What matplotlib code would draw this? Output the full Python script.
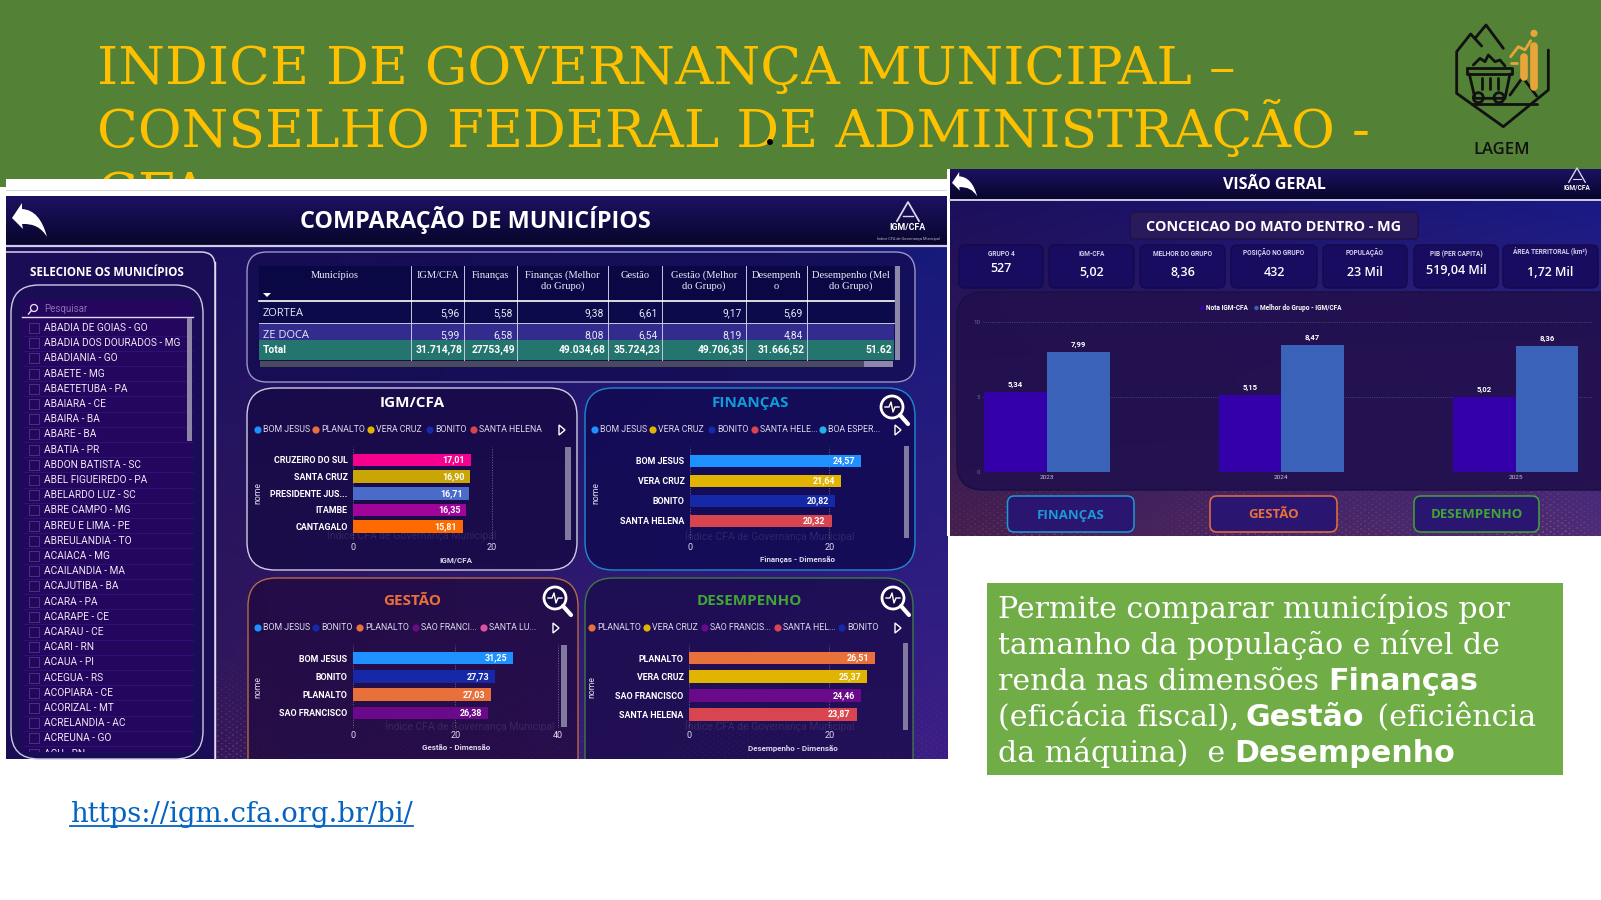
import numpy as np
import matplotlib
matplotlib.use("Agg")
import matplotlib.pyplot as plt
from matplotlib.colors import to_rgba, to_rgb
from matplotlib.patches import FancyBboxPatch, Rectangle, Circle, Polygon, PathPatch
from matplotlib.path import Path
from matplotlib.textpath import TextPath

# ---------- data ----------
TITLE_LINES = ["INDICE DE GOVERNANÇA MUNICIPAL –", "CONSELHO FEDERAL DE ADMINISTRAÇÃO -", "CFA"]
MUNICIPIOS = ["ABADIA DE GOIAS - GO", "ABADIA DOS DOURADOS - MG", "ABADIANIA - GO", "ABAETE - MG",
              "ABAETETUBA - PA", "ABAIARA - CE", "ABAIRA - BA", "ABARE - BA", "ABATIA - PR",
              "ABDON BATISTA - SC", "ABEL FIGUEIREDO - PA", "ABELARDO LUZ - SC", "ABRE CAMPO - MG",
              "ABREU E LIMA - PE", "ABREULANDIA - TO", "ACAIACA - MG", "ACAILANDIA - MA",
              "ACAJUTIBA - BA", "ACARA - PA", "ACARAPE - CE", "ACARAU - CE", "ACARI - RN",
              "ACAUA - PI", "ACEGUA - RS", "ACOPIARA - CE", "ACORIZAL - MT", "ACRELANDIA - AC",
              "ACREUNA - GO", "ACU - RN"]
TABLE_HEAD = ["Municípios", "IGM/CFA", "Finanças", "Finanças (Melhor\ndo Grupo)", "Gestão",
              "Gestão (Melhor\ndo Grupo)", "Desempenh\no", "Desempenho (Mel\ndo Grupo)"]
ROW_ZORTEA = ["ZORTEA", "5,96", "5,58", "9,38", "6,61", "9,17", "5,69", ""]
ROW_ZEDOCA = ["ZE DOCA", "5,99", "6,58", "8,08", "6,54", "8,19", "4,84", ""]
ROW_TOTAL = ["Total", "31.714,78", "27753,49", "49.034,68", "35.724,23", "49.706,35", "31.666,52", "51.62"]

IGM_NAMES = ["CRUZEIRO DO SUL", "SANTA CRUZ", "PRESIDENTE JUS...", "ITAMBE", "CANTAGALO"]
IGM_VALUES = [17.01, 16.90, 16.71, 16.35, 15.81]
FIN_NAMES = ["BOM JESUS", "VERA CRUZ", "BONITO", "SANTA HELENA"]
FIN_VALUES = [24.57, 21.64, 20.82, 20.32]
GES_NAMES = ["BOM JESUS", "BONITO", "PLANALTO", "SAO FRANCISCO"]
GES_VALUES = [31.25, 27.73, 27.03, 26.38]
DES_NAMES = ["PLANALTO", "VERA CRUZ", "SAO FRANCISCO", "SANTA HELENA"]
DES_VALUES = [26.51, 25.37, 24.46, 23.87]

YEARS = ["2023", "2024", "2025"]
NOTA_IGM = [5.34, 5.15, 5.02]
MELHOR_GRUPO = [7.99, 8.47, 8.36]

KPI_LABELS = ["GRUPO 4", "IGM-CFA", "MELHOR DO GRUPO", "POSIÇÃO NO GRUPO", "POPULAÇÃO", "PIB (PER CAPITA)", "ÁREA TERRITORAL (km²)"]
KPI_VALUES = ["527", "5,02", "8,36", "432", "23 Mil", "519,04 Mil", "1,72 Mil"]

# ---------- colours ----------
BLUE, ORANGE, YELLOW, NAVY, RED, PURPLE = "#1e90ff", "#e8703a", "#e0b400", "#1428a8", "#d9454f", "#6a0a8a"
W, H = 1601, 900
SERIF = "DejaVu Serif"

fig = plt.figure(figsize=(W / 100, H / 100), dpi=100, facecolor="white")
bg = fig.add_axes([0, 0, 1, 1])
bg.set_xlim(0, W); bg.set_ylim(H, 0); bg.axis("off")
renderer = fig.canvas.get_renderer()


def rect(x0, y0, x1, y1, color, z, alpha=None):
    bg.add_patch(Rectangle((x0, y0), x1 - x0, y1 - y0, fc=color, ec="none", zorder=z, alpha=alpha))


def rbox(x0, y0, x1, y1, r, ec="none", fc="none", lw=1.0, z=5):
    p = FancyBboxPatch((x0, y0), x1 - x0, y1 - y0, boxstyle=f"round,pad=0,rounding_size={r}",
                       fc=fc, ec=ec, lw=lw, zorder=z)
    bg.add_patch(p)
    return p


def txt(x, y, s, size=7, color="white", ha="center", va="center", weight="normal", family="Roboto", z=9, **kw):
    return bg.text(x, y, s, fontsize=size, color=color, ha=ha, va=va, fontweight=weight, family=family, zorder=z, **kw)


def gradient(x0, y0, x1, y1, tl, tr, bl, br, z):
    top = np.linspace(to_rgb(tl), to_rgb(tr), 64)
    bot = np.linspace(to_rgb(bl), to_rgb(br), 64)
    img = np.linspace(top, bot, 64)
    bg.imshow(img, extent=(x0, x1, y1, y0), aspect="auto", zorder=z, interpolation="bilinear")
    bg.set_xlim(0, W); bg.set_ylim(H, 0)


def city_lights(x0, y0, x1, y1, z, strength=0.4):
    """Background texture imitating the blurred city lights of the dashboard wallpaper."""
    nx, ny = int(x1 - x0), int(y1 - y0)
    xx, yy = np.meshgrid(np.arange(nx) + x0, np.arange(ny))
    lights = (np.sin(xx * 0.83) * np.sin(yy * 1.17 + xx * 0.05) > 0.55) * 1.0
    lights *= 0.5 + 0.5 * np.sin(xx * 0.031 + 1.0) * np.sin(xx * 0.007)
    env = np.linspace(0.15, 1, ny)[:, None]
    rgba = np.zeros((ny, nx, 4))
    rgba[..., 0] = 0.95
    rgba[..., 1] = 0.45 + 0.15 * np.sin(xx * 0.01)
    rgba[..., 2] = 0.45
    rgba[..., 3] = np.clip(lights, 0, 1) * env * strength
    bg.imshow(rgba, extent=(x0, x1, y1, y0), aspect="auto", zorder=z, interpolation="bilinear")
    bg.set_xlim(0, W); bg.set_ylim(H, 0)


def back_arrow(x, y, s, z=9):
    verts = [(0, 15), (10, 0), (10, 6), (28, 7), (35, 34), (27, 20), (10, 21), (11, 26), (0, 15)]
    codes = [Path.MOVETO, Path.LINETO, Path.LINETO, Path.CURVE3, Path.CURVE3, Path.CURVE3, Path.CURVE3, Path.LINETO, Path.CLOSEPOLY]
    verts = [(x + a * s, y + b * s) for a, b in verts]
    bg.add_patch(PathPatch(Path(verts, codes), fc="white", ec="none", zorder=z))


def igm_logo(cx, cy, s=1.0, z=9):
    bg.plot([cx - 11 * s, cx, cx + 11 * s], [cy - 1 * s, cy - 20 * s, cy - 1 * s], color="#d8d8e8", lw=1.3 * s, zorder=z)
    bg.plot([cx - 5 * s, cx + 5 * s], [cy - 6 * s, cy - 6 * s], color="#d8d8e8", lw=1.0 * s, zorder=z)
    txt(cx, cy + 6 * s, "IGM/CFA", size=6.4 * s, weight="bold", z=z)


def magnifier(cx, cy):
    bg.add_patch(Circle((cx, cy), 11, fc="#160b45", ec="white", lw=2.0, zorder=9))
    bg.plot([cx + 8, cx + 16], [cy + 8, cy + 17], color="white", lw=3.0, zorder=9, solid_capstyle="round")
    bg.plot([cx - 7, cx - 3, cx - 1, cx + 1, cx + 3, cx + 7], [cy, cy, cy - 5, cy + 5, cy, cy], color="white", lw=1, zorder=10)


def legend(items, y, arrow_x):
    for x, name, col in items:
        bg.add_patch(Circle((x, y), 3.6, fc=col, ec="none", zorder=9))
        txt(x + 5, y, name, size=6.3, ha="left", color="#dcd8ec")
    bg.add_patch(Polygon([(arrow_x - 3, y - 5), (arrow_x + 3, y), (arrow_x - 3, y + 5)], fc="#160b45", ec="white", lw=1, zorder=9))


def hbars(names, values, colors, x0, x_right, ppu, first, step, ytop, ybot, ticks, xlabel, lab_x, lab_y, nome_x, off=6):
    ax = fig.add_axes([x0 / W, 1 - ybot / H, (x_right - x0) / W, (ybot - ytop) / H], zorder=5)
    ax.patch.set_visible(False)
    ax.set_xlim(0, (x_right - x0) / ppu)
    ax.set_ylim((ybot - first) / step, (ytop - first) / step)
    pos = np.arange(len(values))
    ax.barh(pos, values, height=12.8 / step, color=colors, zorder=3)
    for p, v in zip(pos, values):
        ax.text(v - off / ppu, p, f"{v:.2f}".replace(".", ","), color="white", fontsize=6.4, fontweight="bold",
                family="Roboto", ha="right", va="center", zorder=4)
    ax.set_yticks(pos, names, color="white", fontsize=6.4, fontweight="bold", family="Roboto")
    ax.set_xticks(ticks, [str(t) for t in ticks], color="#dcd8ec", fontsize=6.6, family="Roboto")
    ax.tick_params(length=0, axis="both")
    ax.tick_params(axis="y", pad=4)
    ax.tick_params(axis="x", pad=2.5)
    for s in ax.spines.values():
        s.set_visible(False)
    ax.xaxis.grid(True, color="#6f6b96", ls=":", lw=0.7, zorder=1)
    ax.set_axisbelow(True)
    txt(lab_x, lab_y, xlabel, size=5.8, weight="bold", color="#dcd8ec")
    txt(nome_x, (ytop + ybot) / 2, "nome", size=6.2, rotation=90, color="#dcd8ec")
    return ax


# ---------- banner ----------
rect(0, 0, W, 187, "#538135", 1)
for line, y in zip(TITLE_LINES, [84, 147, 210]):
    txt(97, y, line, size=38.4, color="#FFC000", ha="left", va="baseline", family=SERIF, z=2)
bg.add_patch(Circle((770, 142), 3, fc="black", ec="none", zorder=20))

# logo LAGEM
def lg(pts, color="#111111", lw=2.0):
    bg.plot([1380 + a / 3 for a, b in pts], [b / 3 for a, b in pts], color=color, lw=lw, zorder=3,
            solid_capstyle="round", solid_joinstyle="round")
lg([(505, 150), (505, 270), (370, 380), (230, 280), (230, 155), (272, 102), (305, 138)])
lg([(285, 115), (318, 75), (370, 145)])
lg([(262, 205), (395, 205), (395, 222), (262, 222), (262, 205)])
lg([(268, 222), (285, 295), (375, 295), (390, 222)])
lg([(305, 235), (305, 268)]); lg([(330, 235), (330, 268)]); lg([(355, 235), (355, 268)])
lg([(280, 195), (300, 175), (315, 185), (325, 165), (345, 185), (360, 180), (375, 198)])
lg([(275, 313), (470, 313)])
lg([(390, 285), (428, 232), (470, 288)])
lg([(392, 170), (415, 140), (435, 150), (452, 122)], "#e8a53a", 2.0)
lg([(392, 190), (410, 190)], "#e8a53a", 2.0)
lg([(431, 170), (431, 232)], "#e8a53a", 5.5)
lg([(463, 137), (463, 262)], "#e8a53a", 5.5)
for cx in (295, 357):
    bg.add_patch(Circle((1380 + cx / 3, 293 / 3), 5, fc="none", ec="#111111", lw=2, zorder=3))
bg.add_patch(Circle((1380 + 462 / 3, 100 / 3), 3.6, fc="#e8a53a", ec="none", zorder=3))
txt(1502, 150, "LAGEM", size=12, color="#111111", family="Open Sans", weight="semibold", z=3)

# ---------- left dashboard ----------
rect(5.7, 179, 948, 196.5, "white", 3)
bg.plot([5.7, 948], [190, 190], color="#d9d9e0", lw=0.8, zorder=3.1)
gradient(5.7, 246, 947, 759, "#1d0e58", "#171a7a", "#33164f", "#3b1f86", 3.2)
gradient(5.7, 196.5, 947, 246, "#1c1262", "#1c1262", "#07052a", "#07052a", 3.3)
city_lights(216, 660, 947, 759, 3.4, 0.2)
bg.plot([5.7, 947], [246, 246], color="#cfcbe6", lw=1.6, zorder=4)
back_arrow(12, 203, 1.0)
txt(475, 220, "COMPARAÇÃO DE MUNICÍPIOS", size=16.8, weight="bold", family="Open Sans")
igm_logo(908, 222)
txt(908, 239, "Índice CFA de Governança Municipal", size=2.8, color="#b8b8cc")

# selector
rbox(-8, 252, 215, 780, 14, ec="#d6d2ea", fc="#1b0d55", lw=1.1, z=4)
txt(107, 273, "SELECIONE OS MUNICÍPIOS", size=8.4, weight="bold", family="Open Sans")
rect(22, 300, 193, 752, "#25065f", 4.2)
bg.plot([22, 193], [317, 317], color="#e0dcf0", lw=1, zorder=4.4)
bg.add_patch(Circle((34, 308), 3.5, fc="none", ec="#e8e4f4", lw=0.9, zorder=5))
bg.plot([28.5, 31.5], [314, 310.5], color="#e8e4f4", lw=1, zorder=5)
txt(44, 309, "Pesquisar", size=7, ha="left", color="#8a70b0")
for i, name in enumerate(MUNICIPIOS):
    y = 328 + i * 15.2
    bg.plot([24, 193], [y + 7.5, y + 7.5], color="#2f1880", lw=0.5, zorder=4.3)
    bg.add_patch(Rectangle((28.5, y - 5), 10.5, 10, fc="none", ec="#45357c", lw=0.7, zorder=4.4))
    txt(44, y, name, size=7.3, ha="left", color="#ece8f6", z=5)
rect(187, 318, 192, 441, "#8f86a6", 6)
rect(10, 752, 205, 759, "#1b0d55", 6.5)
rbox(11, 285, 203, 759, 28, ec="#cfcae4", lw=1.0, z=7)
bg.plot([215, 215], [262, 759], color="#e0dcf0", lw=1.0, zorder=7)

# table
rbox(247, 252, 915, 382, 20, ec="#9a95c6", fc=to_rgba("#130c50", 0.75), z=4)
COLS = [259, 411, 464, 517, 608, 662, 746, 807, 894]
rect(259, 266, 894, 301, "#090845", 4.2)
rect(259, 301, 894, 323, "#0b0a4a", 4.2)
rect(259, 323, 894, 342, "#322c8e", 4.2)
for i, head in enumerate(TABLE_HEAD):
    cx = (COLS[i] + COLS[i + 1]) / 2
    lines = head.split("\n")
    for k, l in enumerate(lines):
        txt(cx, 275 + k * 11.3, l, size=7.6, family="Liberation Serif", color="#eceaf6")
bg.add_patch(Polygon([(263, 293), (271, 293), (267, 297)], fc="white", zorder=6))
for yy, row, z in [(313, ROW_ZORTEA, 6), (335, ROW_ZEDOCA, 6)]:
    txt(263, yy, row[0], size=8, ha="left", family="Open Sans", color="#eceaf6", z=z)
    for i in range(1, 8):
        txt(COLS[i + 1] - 4, yy, row[i], size=7.4, ha="right", color="#eceaf6", z=z)
rect(259, 340, 894, 360, "#25756f", 7)
txt(263, 350, ROW_TOTAL[0], size=7.4, ha="left", weight="bold", z=8)
for i in range(1, 8):
    txt(COLS[i + 1] - 2, 350, ROW_TOTAL[i], size=7.4, ha="right", weight="bold", z=8)
for c in COLS[1:-1]:
    bg.plot([c, c], [266, 360], color="#c8c6e0", lw=0.7, zorder=8)
bg.plot([259, 894], [301, 301], color="white", lw=1.2, zorder=8)
bg.plot([259, 894], [323, 323], color="#c8c6e0", lw=0.7, zorder=5)
rect(895, 266, 900, 360, "#8d87a8", 8)
rect(260, 361, 893, 367, "#8d87a8", 8)
rect(260, 361, 864, 367, "#4a4a5e", 8.2)

# chart panels
rbox(247, 388, 577, 570, 28, ec="#d0cce4", fc=to_rgba("#180a46", 0.85), z=4)
rbox(585, 388, 915, 570, 28, ec="#1c8ad0", fc=to_rgba("#120a52", 0.85), z=4)
rbox(248, 578, 578, 790, 28, ec="#b56a48", fc=to_rgba("#20093e", 0.72), z=4)
rbox(585, 578, 913, 790, 28, ec="#3d7a45", fc=to_rgba("#190a48", 0.72), z=4)
rect(0, 759, 948, 795, "white", 4.6)
rect(0, 187, 5.7, 795, "white", 4.6)
txt(412, 403, "IGM/CFA", size=11, weight="bold", family="Open Sans")
txt(750, 403, "FINANÇAS", size=11, weight="bold", color="#0d9ddc", family="Open Sans")
txt(412, 601, "GESTÃO", size=11, weight="bold", color=ORANGE, family="Open Sans")
txt(749, 601, "DESEMPENHO", size=11, weight="bold", color="#3fa535", family="Open Sans")
for cx, cy in [(412, 535), (770, 536), (470, 726), (770, 726)]:
    txt(cx, cy, "Índice CFA de Governança Municipal", size=7.5, color="#6a6090", alpha=0.3, z=4.5)
magnifier(892, 407); magnifier(555, 598); magnifier(893, 598)

legend([(258, "BOM JESUS", BLUE), (316, "PLANALTO", ORANGE), (371, "VERA CRUZ", YELLOW), (430, "BONITO", NAVY), (474, "SANTA HELENA", RED)], 430, 562)
legend([(595, "BOM JESUS", BLUE), (653, "VERA CRUZ", YELLOW), (712, "BONITO", NAVY), (755, "SANTA HELE...", RED), (823, "BOA ESPER...", "#20b0f0")], 430, 898)
legend([(258, "BOM JESUS", BLUE), (316, "BONITO", NAVY), (360, "PLANALTO", ORANGE), (416, "SAO FRANCI...", PURPLE), (484, "SANTA LU...", "#e050a0")], 628, 556)
legend([(592, "PLANALTO", ORANGE), (647, "VERA CRUZ", YELLOW), (705, "SAO FRANCIS...", PURPLE), (778, "SANTA HEL...", RED), (842, "BONITO", NAVY)], 628, 898)

hbars(IGM_NAMES, IGM_VALUES, ["#f5008f", "#c9a606", "#4a6bc8", "#a0059a", "#ff6a00"], 353.3, 560, 6.92, 460, 16.65, 447, 540,
      [0, 20], "IGM/CFA", 456, 560, 258)
hbars(FIN_NAMES, FIN_VALUES, [BLUE, YELLOW, NAVY, RED], 690, 895, 6.97, 461, 20, 447, 540,
      [0, 20], "Finanças - Dimensão", 798, 559, 596)
hbars(GES_NAMES, GES_VALUES, [BLUE, NAVY, ORANGE, PURPLE], 352.7, 560, 5.13, 658, 18.3, 645, 728,
      [0, 20, 40], "Gestão - Dimensão", 456, 748, 258)
hbars(DES_NAMES, DES_VALUES, [ORANGE, YELLOW, PURPLE, RED], 689, 895, 7.02, 658, 18.7, 645, 728,
      [0, 20], "Desempenho - Dimensão", 793, 748, 592)
for x0, x1, y0, y1 in [(565, 571, 447, 540), (904, 909, 446, 538), (561, 567, 645, 727), (903, 908, 643, 730)]:
    rect(x0, y0, x1, y1, "#7f7a9e", 9)

# ---------- right dashboard ----------
rect(947, 169, 950, 536, "white", 10)
gradient(950, 199, W, 536, "#1c0f5c", "#1a1a85", "#44204f", "#4d2c78", 10.1)
gradient(950, 169, W, 199, "#1c1262", "#1c1262", "#07052a", "#07052a", 10.2)
city_lights(950, 470, W, 536, 10.25, 0.3)
bg.plot([950, W], [199.5, 199.5], color="#cfcbe6", lw=1.4, zorder=10.3)
back_arrow(952, 172, 0.72, z=11)
txt(1274, 185, "VISÃO GERAL", size=11.5, weight="bold", family="Open Sans", z=11)
igm_logo(1577, 183, 0.75, z=11)
rbox(1130, 212, 1418, 239, 5, fc="#2a1a5c", ec="#1c1248", z=11)
txt(1274, 227, "CONCEICAO DO MATO DENTRO - MG", size=10.4, weight="bold", family="Open Sans", z=12)
KPI_X = [(959, 1043), (1049, 1134), (1140, 1225), (1231, 1317), (1323, 1407), (1414, 1498), (1503, 1598)]
for (a, b), lab, val, ly, vy in zip(KPI_X, KPI_LABELS, KPI_VALUES,
                                    [254, 254, 254, 253, 253, 254, 252],
                                    [268, 272, 272, 272, 272, 271, 272]):
    rbox(a, 245, b, 288, 6, fc="#170c60", ec="#140a48", z=11)
    txt((a + b) / 2, ly, lab, size=4.7, weight="bold", color="#d4d0e8", z=12)
    txt((a + b) / 2, vy, val, size=9, weight="semibold", family="Open Sans", z=12)
rbox(957, 292, 1640, 490, 26, fc=to_rgba("#22104e", 0.92), ec="#181040", z=11)
bg.add_patch(Circle((1202, 308), 2.2, fc="#3300aa", zorder=12))
txt(1206, 308, "Nota IGM-CFA", size=4.7, weight="bold", ha="left", z=12)
bg.add_patch(Circle((1256.5, 308), 2.2, fc="#3a62b8", zorder=12))
txt(1260.5, 308, "Melhor do Grupo - IGM/CFA", size=4.7, weight="bold", ha="left", z=12)

vx0, vx1, vtop, vbot = 983, 1592, 321.7, 472.3
ax = fig.add_axes([vx0 / W, 1 - vbot / H, (vx1 - vx0) / W, (vbot - vtop) / H], zorder=6)
ax.patch.set_visible(False)
ppg = 234.3
ax.set_xlim((vx0 - 1047) / ppg, (vx1 - 1047) / ppg)
ax.set_ylim(0, 10)
xs = np.arange(len(YEARS))
bw = 62.7 / ppg
b1 = ax.bar(xs - bw / 2, NOTA_IGM, bw, color="#3300aa", zorder=3)
b2 = ax.bar(xs + bw / 2, MELHOR_GRUPO, bw, color="#3a62b8", zorder=3)
for bars in (b1, b2):
    ax.bar_label(bars, labels=[f"{b.get_height():.2f}".replace(".", ",") for b in bars], padding=3,
                 color="white", fontsize=5.6, fontweight="bold", family="Roboto")
ax.set_xticks(xs, YEARS, color="#c8c4dc", fontsize=4.6, family="Roboto")
ax.set_yticks([0, 5, 10], ["0", "5", "10"], color="#6f6a90", fontsize=4.4, family="Roboto")
ax.tick_params(length=0, pad=2)
ax.yaxis.grid(True, color="#5a5680", ls=":", lw=0.6, zorder=1)
ax.set_axisbelow(True)
for s in ax.spines.values():
    s.set_visible(False)

for (a, b), name, col in zip([(1007.5, 1134), (1210, 1337), (1414, 1539)], ["FINANÇAS", "GESTÃO", "DESEMPENHO"],
                             ["#1a9bd7", ORANGE, "#3fa535"]):
    rbox(a, 496, b, 532, 7, ec=col, fc="#2a1670", lw=1.1, z=11)
    txt((a + b) / 2, 515, name, size=9.5, weight="bold", color=col, family="Open Sans", z=12)

# ---------- note ----------
rect(987, 583, 1563, 775, "#70AD47", 3)
NOTE = [[("Permite comparar municípios por", False)],
        [("tamanho da população e nível de", False)],
        [("renda nas dimensões ", False), ("Finanças", True)],
        [("(eficácia fiscal), ", False), ("Gestão", True), (" (eficiência", False)],
        [("da máquina)  e ", False), ("Desempenho", True)]]
for row, y in zip(NOTE, [618, 654, 690, 726, 762]):
    x = 998
    for piece, bold in row:
        size = 21.7 if bold else 21.6
        t = bg.text(x, y, piece, fontsize=size, color="white", ha="left", va="baseline", zorder=4,
                    family="DejaVu Sans" if bold else SERIF, fontweight="bold" if bold else "normal")
        w = TextPath((0, 0), piece.replace(" ", "|"), size=size, prop=t.get_fontproperties()).get_extents().width
        gap = 3 if piece.endswith(" ") else 0
        if bold:
            gap = 7
        x += w * 100 / 72 + gap

link = bg.text(70, 822, "https://igm.cfa.org.br/bi/", fontsize=19.8, color="#0563C1", family=SERIF, ha="left", va="baseline", zorder=4)
ext = link.get_window_extent(renderer)
bg.plot([70, 70 + ext.width], [826, 826], color="#0563C1", lw=1.3, zorder=4)

fig.savefig("out.png", dpi=100, facecolor="white")
